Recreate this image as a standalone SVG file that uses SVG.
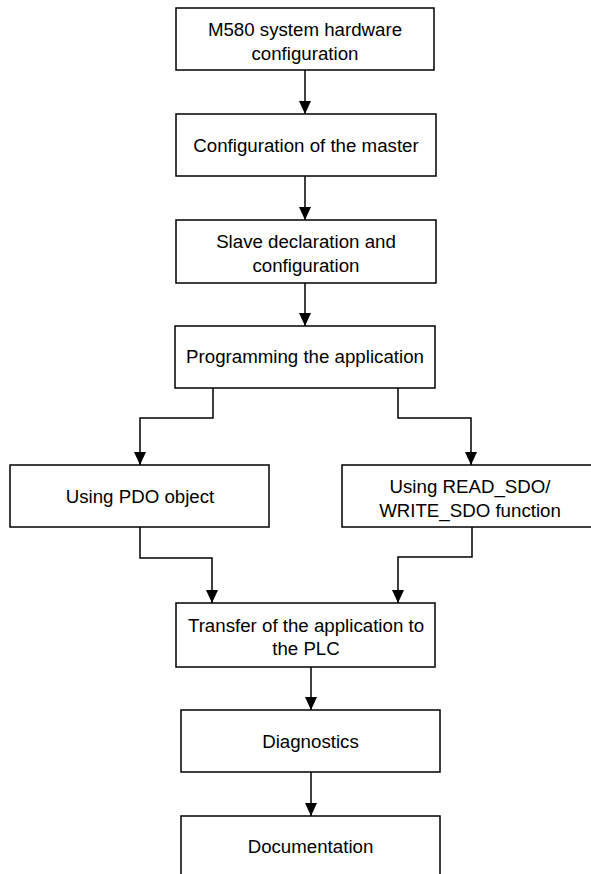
<svg xmlns="http://www.w3.org/2000/svg" width="591" height="874" viewBox="0 0 591 874">
  <defs>
    <style>
      .box { fill: #ffffff; stroke: #000000; stroke-width: 1.5; }
      .lbl { font-family: "Liberation Sans", Arial, sans-serif; font-size: 18.7px; fill: #000000; text-anchor: middle; }
      .wire { fill: none; stroke: #000000; stroke-width: 1.5; }
    </style>
    <marker id="arrow" viewBox="0 0 13 12" refX="13" refY="6" markerWidth="13" markerHeight="12" markerUnits="userSpaceOnUse" orient="auto">
      <path d="M0,0 L13,6 L0,12 z" fill="#000000"/>
    </marker>
  </defs>
  <rect width="591" height="874" fill="#ffffff"/>

  <!-- connectors -->
  <g id="connectors">
    <path class="wire" d="M305,70 V114" marker-end="url(#arrow)"/>
    <path class="wire" d="M305,176 V220" marker-end="url(#arrow)"/>
    <path class="wire" d="M305,283 V326" marker-end="url(#arrow)"/>
    <path class="wire" d="M213,388 V418 H140 V465" marker-end="url(#arrow)"/>
    <path class="wire" d="M398,388 V418 H471 V465" marker-end="url(#arrow)"/>
    <path class="wire" d="M140,527 V558 H212 V603" marker-end="url(#arrow)"/>
    <path class="wire" d="M472,527 V557 H398 V603" marker-end="url(#arrow)"/>
    <path class="wire" d="M311,667 V710" marker-end="url(#arrow)"/>
    <path class="wire" d="M311,772 V816" marker-end="url(#arrow)"/>
  </g>

  <!-- steps -->
  <g id="hw-config">
    <rect class="box" x="176" y="8" width="258" height="62"/>
    <text class="lbl" x="305" y="35.5">M580 system hardware</text>
    <text class="lbl" x="305" y="59.5">configuration</text>
  </g>
  <g id="master-config">
    <rect class="box" x="176" y="114" width="260" height="62"/>
    <text class="lbl" x="306" y="152">Configuration of the master</text>
  </g>
  <g id="slave-config">
    <rect class="box" x="176" y="220" width="260" height="63"/>
    <text class="lbl" x="306" y="248">Slave declaration and</text>
    <text class="lbl" x="306" y="272">configuration</text>
  </g>
  <g id="programming">
    <rect class="box" x="175" y="326" width="260" height="62"/>
    <text class="lbl" x="305" y="363">Programming the application</text>
  </g>
  <g id="pdo">
    <rect class="box" x="10" y="465" width="259" height="62"/>
    <text class="lbl" x="140" y="503">Using PDO object</text>
  </g>
  <g id="sdo">
    <rect class="box" x="342" y="465" width="260" height="62"/>
    <text class="lbl" x="470" y="493">Using READ_SDO/</text>
    <text class="lbl" x="470" y="517">WRITE_SDO function</text>
  </g>
  <g id="transfer">
    <rect class="box" x="176" y="603" width="259" height="64"/>
    <text class="lbl" x="306" y="632">Transfer of the application to</text>
    <text class="lbl" x="306" y="655">the PLC</text>
  </g>
  <g id="diagnostics">
    <rect class="box" x="181" y="710" width="259" height="62"/>
    <text class="lbl" x="310.5" y="748">Diagnostics</text>
  </g>
  <g id="documentation">
    <rect class="box" x="181" y="816" width="259" height="62"/>
    <text class="lbl" x="310.5" y="853">Documentation</text>
  </g>
</svg>
